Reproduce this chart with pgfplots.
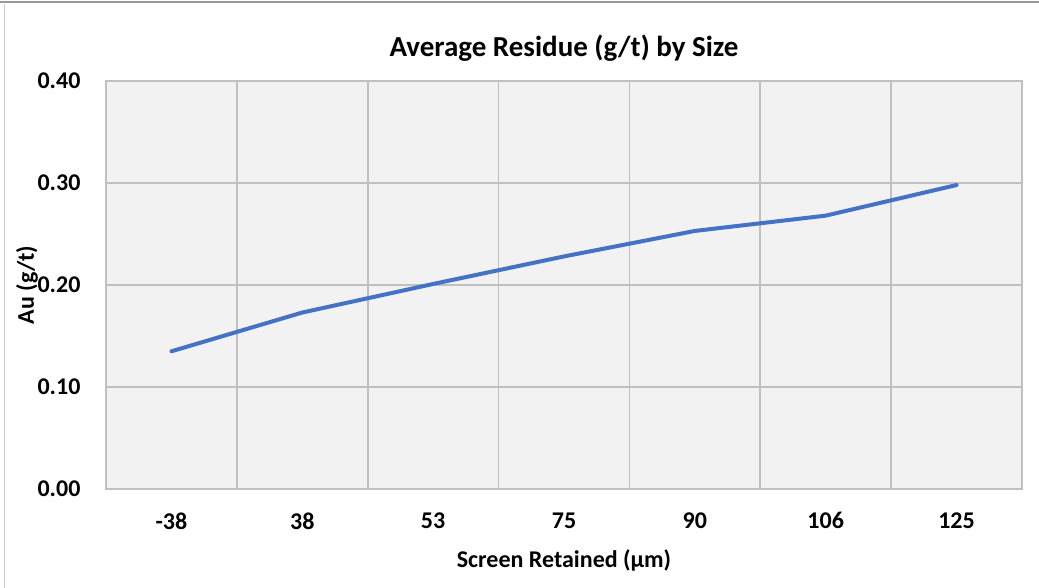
\documentclass[border=0pt]{standalone}
\usepackage{fontspec}
\setmainfont{Carlito}
\usepackage{pgfplots}
\pgfplotsset{compat=1.18}
\usetikzlibrary{calc}
\definecolor{lineblue}{HTML}{4472C4}
\definecolor{gridgray}{HTML}{C0C0C0}
\definecolor{plotbg}{HTML}{F2F2F2}
\begin{document}
\begin{tikzpicture}
\begin{axis}[
    name=ax,
    scale only axis,
    width=916pt, height=408pt,
    xmin=-0.5, xmax=6.5,
    ymin=0, ymax=0.4,
    xtick={0,1,2,3,4,5,6},
    xticklabels={-38,38,53,75,90,106,125},
    minor xtick={-0.5,0.5,1.5,2.5,3.5,4.5,5.5,6.5},
    ytick={0,0.1,0.2,0.3,0.4},
    yticklabels={0.00,0.10,0.20,0.30,0.40},
    xminorgrids=true, ymajorgrids=true,
    grid style={gridgray, line width=1.8pt},
    minor grid style={gridgray, line width=1.8pt},
    major tick length=0pt, minor tick length=0pt,
    axis line style={gridgray, line width=1.8pt},
    axis background/.style={fill=plotbg},
    ticklabel style={font=\bfseries\fontsize{24}{28}\selectfont},
    xticklabel style={yshift=-20pt},
    yticklabel style={xshift=-22pt},
    title={Average Residue (g/t) by Size},
    title style={font=\bfseries\fontsize{29}{34}\selectfont, at={(axis description cs:0.5,1)}, yshift=27pt, anchor=center},
    xlabel={Screen Retained (µm)},
    xlabel style={font=\bfseries\fontsize{24}{28}\selectfont, at={(axis description cs:0.5,0)}, yshift=-71pt, anchor=center},
    ylabel={Au (g/t)},
    ylabel style={font=\bfseries\fontsize{24}{28}\selectfont, at={(axis description cs:0,0.5)}, yshift=79pt, anchor=center},
]
\addplot[lineblue, line width=4pt, line join=round, line cap=round] coordinates {
    (0,0.135) (1,0.173) (2,0.201) (3,0.228) (4,0.253) (5,0.268) (6,0.298)
};
\end{axis}
\pgfresetboundingbox
\coordinate (bl) at ($(ax.south west)+(-106pt,-99pt)$);
\path[use as bounding box] (bl) rectangle ++(1039pt,588pt);
\draw[color=black!40, line width=2pt] ($(bl)+(0,586pt)$) -- ++(1039pt,0);
\draw[color=black!20, line width=1pt] ($(bl)+(5pt,0)$) -- ++(0,584pt);
\end{tikzpicture}
\end{document}
